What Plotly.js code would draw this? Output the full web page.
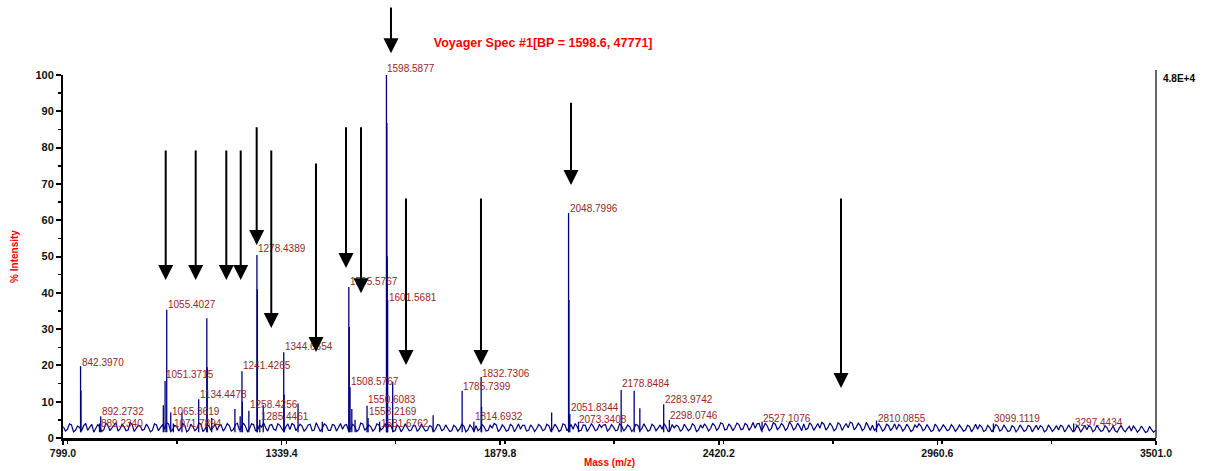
<!DOCTYPE html>
<html>
<head>
<meta charset="utf-8">
<script src="https://cdn.plot.ly/plotly-3.0.1.min.js"></script>
<style>html,body{margin:0;padding:0;background:#fff;}#chart{width:1207px;height:471px;}</style>
</head>
<body>
<div id="chart"></div>
<script>
// ---- data ----
var titleText = 'Voyager Spec #1[BP = 1598.6, 47771]';
var scaleText = '4.8E+4';

// baseline noise (% intensity), sampled every 10 Da from 800 to 3500
var baseStart = 800, baseStep = 10;
var baseline = [
3.1,2.4,3.6,2.2,2.9,3.4,2.1,3.8,2.6,3.0,2.3,3.5,2.8,4.2,2.5,3.1,2.2,3.7,2.7,3.3,
2.4,3.0,2.1,3.6,2.9,2.5,3.9,2.3,3.2,2.8,3.5,2.2,3.1,2.6,3.8,2.4,3.3,2.9,2.1,3.6,
2.7,3.4,2.3,4.1,2.9,3.2,2.5,3.7,2.2,3.0,2.8,3.5,2.4,3.9,2.6,3.1,2.3,3.6,2.9,3.3,
2.5,3.8,2.2,3.0,2.7,3.4,2.1,3.5,2.9,2.4,3.7,2.6,3.2,2.3,3.9,2.8,3.1,2.5,3.6,2.7,
2.4,3.3,2.0,3.1,2.6,2.9,2.2,3.4,2.5,2.8,2.1,3.2,2.4,3.5,2.3,2.7,2.0,3.0,2.6,3.3,
2.2,2.9,3.4,2.5,3.1,2.1,2.8,3.6,2.4,3.0,2.2,3.3,2.7,2.4,3.5,2.1,2.9,2.6,3.2,2.3,
3.4,2.5,3.0,2.2,3.6,2.8,2.4,3.1,2.1,3.5,2.7,3.2,2.3,2.9,3.7,2.5,3.0,2.2,3.4,2.6,
3.1,2.4,3.5,2.6,2.9,2.2,3.3,2.7,2.4,3.0,2.1,2.8,3.2,2.3,2.9,2.5,3.4,2.2,2.7,3.1,
2.6,3.5,2.8,3.9,2.4,3.2,2.9,3.7,2.5,3.6,3.0,2.7,4.0,2.8,3.3,2.6,3.8,2.9,3.4,2.7,
3.6,2.8,3.2,3.9,2.6,3.5,3.0,2.7,3.8,2.9,3.3,2.5,3.7,3.1,2.8,4.1,3.0,3.4,2.6,3.2,
3.5,2.7,3.1,2.4,3.4,2.8,2.3,3.2,2.6,3.0,2.2,2.9,3.3,2.5,2.8,2.1,3.1,2.6,2.9,2.3,
3.0,2.5,2.8,2.2,3.2,2.6,2.4,3.1,2.1,2.9,2.5,3.3,2.3,2.7,2.0,3.0,2.4,2.8,2.2,3.1,
2.6,2.3,3.0,2.1,2.8,2.5,2.2,3.2,2.4,2.7,2.0,2.9,2.5,2.3,3.0,2.2,2.6,2.1,2.8,2.4,
2.0,2.7,2.3,2.5,1.9,2.6,2.2,2.4,1.8,2.3,2.1
];
// baseline noise between those samples (805, 815, ... 3495)
var baselineMid = [
1.9,3.9,1.7,3.3,2.0,4.0,2.8,1.6,3.7,1.8,4.1,2.0,3.6,1.9,3.8,2.0,4.3,1.8,3.5,2.1,
3.8,1.7,3.9,2.0,3.6,4.2,1.8,3.5,1.9,4.0,1.7,3.8,2.0,4.1,1.8,3.6,2.1,3.9,3.4,1.9,
4.0,1.9,3.7,2.2,4.1,1.8,3.9,2.0,3.6,4.2,1.9,3.7,2.1,3.5,1.8,3.9,4.0,2.0,3.8,1.9,
3.6,2.0,4.2,1.8,3.9,2.1,3.7,1.9,4.0,3.5,2.0,3.8,1.8,4.1,2.1,3.6,1.9,3.9,2.2,4.0,
3.7,1.8,3.6,1.7,3.9,2.0,3.5,1.8,3.8,1.9,3.4,1.7,3.7,2.0,3.6,1.8,3.5,1.9,3.8,1.7,
3.6,1.8,2.0,3.7,1.9,3.5,4.0,1.8,3.6,1.9,3.8,1.7,3.9,3.5,1.9,3.6,1.8,3.7,2.0,3.8,
1.9,3.8,1.8,3.9,2.0,3.7,4.0,1.9,3.6,1.8,3.9,2.0,3.8,3.6,1.9,3.7,2.0,3.9,1.9,3.6,
1.8,3.7,2.0,3.9,1.9,3.8,2.0,3.6,4.0,1.8,3.7,3.5,1.9,3.8,2.0,3.9,1.8,3.6,3.9,1.9,
4.0,2.1,4.2,2.2,3.9,2.0,4.1,2.3,4.0,2.1,4.3,3.9,2.2,4.1,2.0,4.2,2.3,4.0,2.1,4.4,
2.2,4.1,2.0,2.3,4.2,2.1,4.0,4.3,2.2,4.1,2.0,4.2,2.1,4.0,4.4,2.2,4.1,2.0,4.3,2.1,
2.1,4.0,1.9,3.8,2.0,3.9,3.7,1.9,3.8,1.8,3.6,3.9,2.0,3.7,1.8,3.8,1.9,3.6,2.0,3.7,
1.8,3.6,1.9,3.5,1.7,3.8,3.6,1.8,3.5,1.7,3.7,1.9,3.6,1.8,3.4,1.7,3.6,1.8,3.5,1.7,
3.5,3.4,1.7,3.6,1.8,3.4,3.5,1.7,3.6,1.8,3.3,1.6,3.5,3.4,1.7,3.5,1.8,3.4,1.6,3.3,
1.6,3.4,1.7,3.2,3.3,1.6,3.3,1.5,3.2,1.6
];

// peaks: m/z and % intensity
var peakMz = [842.40, 843.40, 889.23, 892.27, 1047.0, 1051.37, 1055.40, 1065.36, 1071.79, 1093.0,
  1134.45, 1154.5, 1155.5, 1166.5, 1224.0, 1237.0, 1241.43, 1242.43, 1258.43, 1278.44,
  1279.44, 1285.45, 1294.0, 1344.67, 1345.67, 1380.0, 1440.0, 1505.58, 1506.58, 1508.58,
  1513.0, 1521.0, 1550.61, 1553.22, 1581.68, 1598.59, 1599.59, 1600.59, 1601.57, 1614.0,
  1714.0, 1785.74, 1814.69, 1832.73, 1833.73, 2007.0, 2048.80, 2049.80, 2051.83, 2073.34,
  2178.85, 2211.0, 2225.0, 2283.97, 2298.07, 2527.11, 2810.09, 3099.11, 3297.44];
var peakPct = [19.8, 13.0, 4.0, 6.0, 9.0, 15.7, 35.3, 7.0, 4.0, 7.0,
  10.7, 33.0, 19.5, 5.5, 8.0, 6.0, 18.4, 10.0, 7.5, 50.4,
  41.0, 5.0, 9.0, 23.6, 12.0, 9.5, 4.5, 41.6, 30.6, 14.0,
  8.0, 5.0, 8.9, 5.5, 4.5, 100.0, 86.8, 50.0, 38.0, 15.5,
  6.3, 13.0, 4.5, 16.8, 8.6, 7.0, 62.0, 38.0, 6.6, 4.5,
  13.2, 13.0, 8.2, 9.3, 5.0, 4.5, 4.8, 4.0, 4.0];

// peak labels: text and the % level at which the label sits
var labelText = ['842.3970','892.2732','889.2340','1055.4027','1051.3715','1065.3619','1071.7894','1134.4478',
  '1241.4265','1258.4256','1285.4461','1278.4389','1344.6654','1505.5767','1508.5767','1550.6083',
  '1553.2169','1581.6762','1598.5877','1601.5681','1785.7399','1814.6932','1832.7306','2048.7996',
  '2051.8344','2073.3408','2178.8484','2283.9742','2298.0746','2527.1076','2810.0855','3099.1119','3297.4434'];
var labelPct = [20.9, 7.4, 4.1, 36.9, 17.4, 7.2, 3.9, 12.1,
  20.1, 9.1, 5.8, 52.1, 25.3, 43.0, 15.7, 10.5,
  7.4, 3.9, 101.7, 38.8, 14.3, 5.8, 17.9, 63.1,
  8.5, 5.2, 14.9, 10.5, 6.3, 5.5, 5.5, 5.5, 4.4];

// arrows: m/z, tip level (%), tail level (%)
var arrowMz   = [1052.9, 1127.0, 1202.7, 1238.3, 1277.8, 1313.9, 1424.4, 1498.6, 1535.7, 1609.8, 1646.9, 1832.3, 2054.8, 2722.3];
var arrowTip  = [43.5, 43.5, 43.5, 43.5, 53.2, 30.3, 23.7, 46.8, 39.9, 106.0, 20.1, 20.1, 69.7, 13.8];
var arrowTail = [79.6, 79.6, 79.6, 79.6, 86.0, 79.6, 76.0, 86.0, 86.0, 119.0, 66.4, 66.4, 92.8, 66.4];

var xTick0 = 799.0, xTickStep = 540.4, xMin = 799.0, xMax = 3501.0;
var yMin = 0, yMax = 100;

// ---- build traces ----
var W = 1207, H = 471, M = {l: 63, r: 51, t: 75, b: 33};
var plotH = H - M.t - M.b;
function toPaper(v) { return (v - yMin) / (yMax - yMin); }

var bx = [], by = [];
for (var i = 0; i < baseline.length; i++) {
  bx.push(baseStart + baseStep * i); by.push(baseline[i]);
  if (i < baselineMid.length) { bx.push(baseStart + baseStep * i + baseStep / 2); by.push(baselineMid[i]); }
}
var px = [], py = [];
for (var j = 0; j < peakMz.length; j++) {
  px.push(peakMz[j], peakMz[j], null);
  py.push(1.6, peakPct[j], null);
}
var lineColor = '#00007f';
var traces = [
  {type: 'scatter', mode: 'lines', x: bx, y: by, line: {color: lineColor, width: 1.2}, hoverinfo: 'skip'},
  {type: 'scatter', mode: 'lines', x: px, y: py, line: {color: lineColor, width: 1.3}, connectgaps: false}
];

var ann = [];
var labelFont = {family: 'Liberation Sans, Arial, sans-serif', size: 10, color: 'rgb(150,38,38)'};
for (var k = 0; k < labelText.length; k++) {
  ann.push({x: parseFloat(labelText[k]), y: toPaper(labelPct[k]), xref: 'x', yref: 'paper', text: labelText[k],
    showarrow: false, xanchor: 'left', yanchor: 'middle', xshift: -1, font: labelFont});
}
for (var a = 0; a < arrowMz.length; a++) {
  ann.push({x: arrowMz[a], y: toPaper(arrowTip[a]), xref: 'x', yref: 'paper',
    ax: 0, ay: -(toPaper(arrowTail[a]) - toPaper(arrowTip[a])) * plotH,
    axref: 'pixel', ayref: 'pixel', text: '', showarrow: true, arrowhead: 2, arrowsize: 1.5, arrowwidth: 2,
    arrowcolor: '#000000', standoff: 0});
}
ann.push({x: 1, y: 1, xref: 'paper', yref: 'paper', text: '<b>' + scaleText + '</b>', showarrow: false,
  xanchor: 'left', yanchor: 'middle', xshift: 5, yshift: -3,
  font: {family: 'Liberation Sans, Arial, sans-serif', size: 10, color: '#000'}});

var layout = {
  width: W, height: H,
  margin: M,
  paper_bgcolor: '#ffffff', plot_bgcolor: '#ffffff',
  showlegend: false,
  title: {text: '<b>' + titleText + '</b>', x: 0.45, xref: 'container', xanchor: 'center',
    y: 0.909, yref: 'container', yanchor: 'middle',
    font: {family: 'Liberation Sans, Arial, sans-serif', size: 12.5, color: '#ff0000'}},
  xaxis: {range: [xMin, xMax], tick0: xTick0, dtick: xTickStep, tickmode: 'linear', tickformat: '.1f',
    showgrid: false, zeroline: false, showline: true, linecolor: '#000', linewidth: 2.5,
    ticks: 'outside', ticklen: 4, tickwidth: 1.5, tickcolor: '#000',
    minor: {dtick: xTickStep / 2, ticks: 'outside', ticklen: 3, tickwidth: 1.5, tickcolor: '#000', showgrid: false},
    tickfont: {family: 'Liberation Sans, Arial, sans-serif', size: 10.5, color: '#111', weight: 'bold'},
    title: {text: '<b>Mass (m/z)</b>', standoff: 1,
      font: {family: 'Liberation Sans, Arial, sans-serif', size: 10, color: '#ff0000'}}},
  yaxis: {range: [yMin, yMax], dtick: 10, tick0: 0, tickmode: 'linear',
    showgrid: false, zeroline: false, showline: true, linecolor: '#000', linewidth: 2,
    ticks: 'outside', ticklen: 5, tickwidth: 2, tickcolor: '#000',
    minor: {dtick: 5, ticks: 'outside', ticklen: 3, tickwidth: 1.5, tickcolor: '#000', showgrid: false},
    tickfont: {family: 'Liberation Sans, Arial, sans-serif', size: 11, color: '#111', weight: 'bold'},
    title: {text: '<b>% Intensity</b>', standoff: 15,
      font: {family: 'Liberation Sans, Arial, sans-serif', size: 10, color: '#ff0000'}}},
  shapes: [{type: 'line', xref: 'paper', yref: 'paper', x0: 1, x1: 1, y0: 0, y1: 1.014,
    line: {color: '#000', width: 1.2}}],
  annotations: ann
};
Plotly.newPlot('chart', traces, layout, {displayModeBar: false, staticPlot: true});
</script>
</body>
</html>
